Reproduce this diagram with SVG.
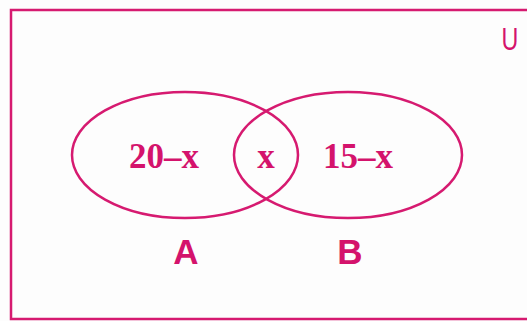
<svg xmlns="http://www.w3.org/2000/svg" width="527" height="321" viewBox="0 0 527 321">
<style>
.ln{fill:none;stroke:#d61a70;stroke-width:2.5}
.ser{font-family:"Liberation Serif","Times New Roman",serif;font-weight:bold;font-size:35px;fill:#d4136c;text-anchor:middle}
.sans{font-family:"Liberation Sans",Arial,sans-serif;font-weight:bold;font-size:35px;fill:#d4136c;text-anchor:middle}
</style>
<rect width="527" height="321" fill="#fdfdfd"/>
<g id="universe">
<rect x="11" y="10" width="530" height="309" class="ln" stroke-width="3"/>
<text transform="translate(510,50) scale(0.75,1)" font-family="Liberation Sans,Arial,sans-serif" font-size="31" fill="#d4136c" text-anchor="middle">U</text>
</g>
<g id="setA">
<ellipse cx="185" cy="155" rx="113" ry="63" class="ln"/>
<text x="164" y="168" class="ser">20–x</text>
<text x="186" y="264" class="sans">A</text>
</g>
<g id="setB">
<ellipse cx="348" cy="155" rx="114" ry="63" class="ln"/>
<text x="358" y="168" class="ser">15–x</text>
<text x="350" y="264" class="sans">B</text>
</g>
<g id="intersection">
<text x="266" y="168" class="ser">x</text>
</g>
<g id="connectors"></g>
</svg>
